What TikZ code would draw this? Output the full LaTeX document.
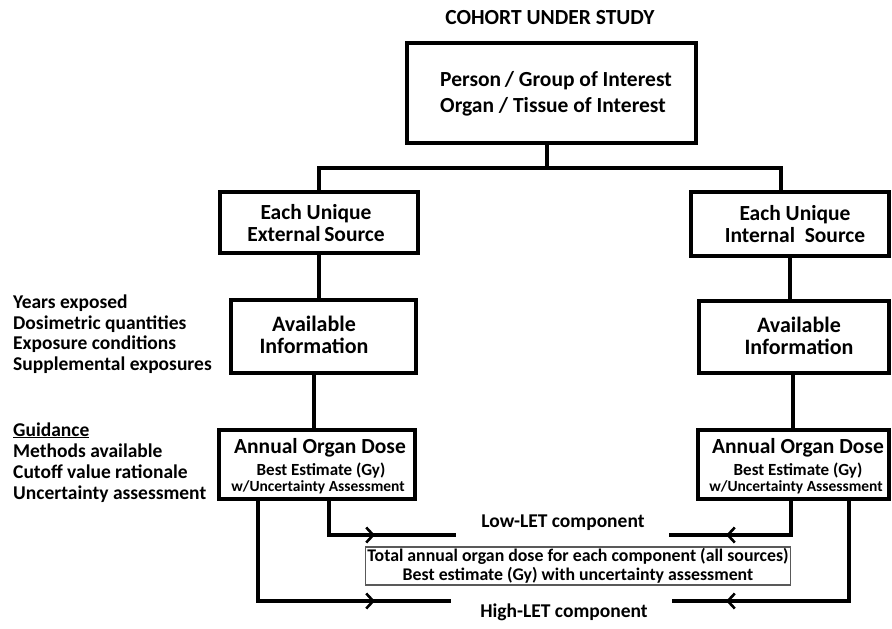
\documentclass[tikz,border=0pt]{standalone}
\usepackage{fontspec}
\setmainfont{Carlito}
\usetikzlibrary{arrows.meta}
\begin{document}
\begin{tikzpicture}[x=1pt,y=-1pt,
  box/.style={draw, line width=3.8pt, rectangle, inner sep=0pt, align=center},
  conn/.style={line width=3.8pt},
  barb/.style={-{Straight Barb[length=7pt,width=15pt,line width=2.6pt]}},
  lbl/.style={inner sep=0pt, anchor=base west, font=\bfseries\fontsize{19.5}{21}\selectfont},
  txt/.style={inner sep=0pt, align=center},
  ]
\useasboundingbox (0,0) rectangle (892,629);
% title
\node[inner sep=0pt, font=\bfseries\fontsize{21.5}{24}\selectfont] (title) at (550,18) {COHORT UNDER STUDY};
% boxes
\node[box, minimum width=289pt, minimum height=100pt] (top) at (551.5,93) {};
\node[txt, align=left, font=\bfseries\fontsize{21.5}{26}\selectfont] (topT) at (556,94)
  {Person\,/ Group of Interest\\Organ / Tissue of Interest};
\node[box, minimum width=198pt, minimum height=61pt] (srcL) at (319,222.5) {};
\node[txt, font=\bfseries\fontsize{21.5}{22}\selectfont] (srcLT) at (316,223)
  {Each Unique\\External\,Source};
\node[box, minimum width=198pt, minimum height=64pt] (srcR) at (790,224) {};
\node[txt, font=\bfseries\fontsize{21.5}{22}\selectfont] (srcRT) at (795,224)
  {Each Unique\\Internal\ \ Source};
\node[box, minimum width=185pt, minimum height=73pt] (availL) at (323.5,336.5) {};
\node[txt, font=\bfseries\fontsize{22}{22}\selectfont] (availLT) at (314,335)
  {Available\\Information};
\node[box, minimum width=190pt, minimum height=72pt] (availR) at (794,337) {};
\node[txt, font=\bfseries\fontsize{22}{22}\selectfont] (availRT) at (799,336)
  {Available\\Information};
\node[box, minimum width=196pt, minimum height=69pt] (annualL) at (317,464.5) {};
\node[txt, anchor=base, font=\bfseries\fontsize{21.5}{22}\selectfont] (aL1) at (320,453) {Annual Organ Dose};
\node[txt, anchor=base, font=\bfseries\fontsize{17}{18}\selectfont] (aL2) at (321,475) {Best Estimate (Gy)};
\node[txt, anchor=base, font=\bfseries\fontsize{15.5}{16}\selectfont] (aL3) at (318,491) {w/Uncertainty Assessment};
\node[box, minimum width=191pt, minimum height=69pt] (annualR) at (793.5,464.5) {};
\node[txt, anchor=base, font=\bfseries\fontsize{21.5}{22}\selectfont] (aR1) at (798,453) {Annual Organ Dose};
\node[txt, anchor=base, font=\bfseries\fontsize{17}{18}\selectfont] (aR2) at (798,475) {Best Estimate (Gy)};
\node[txt, anchor=base, font=\bfseries\fontsize{15.5}{16}\selectfont] (aR3) at (796,491) {w/Uncertainty Assessment};
\node[draw=black!65, line width=1.1pt, minimum width=425pt, minimum height=38pt, inner sep=0pt, align=center,
      font=\bfseries\fontsize{17.8}{19}\selectfont] (total) at (578,566)
  {Total annual organ dose for each component (all sources)\\Best estimate (Gy) with uncertainty assessment};
% side lists
\node[lbl] (i1) at (13,308) {Years exposed};
\node[lbl] (i2) at (13,329) {Dosimetric quantities};
\node[lbl] (i3) at (13,349) {Exposure conditions};
\node[lbl] (i4) at (13,370) {Supplemental exposures};
\node[lbl] (g1) at (13,436) {\underline{Guidance}};
\node[lbl] (g2) at (13,457) {Methods available};
\node[lbl] (g3) at (13,478) {Cutoff value rationale};
\node[lbl] (g4) at (13,499) {Uncertainty assessment};
% component labels
\node[inner sep=0pt, font=\bfseries\fontsize{19.5}{20}\selectfont] (low) at (563,523) {Low-LET component};
\node[inner sep=0pt, font=\bfseries\fontsize{19.5}{20}\selectfont] (high) at (564,612) {High-LET component};
% tree connectors
\coordinate (hub) at (547,168);
\draw[conn] (top.south -| hub) -- (hub);
\draw[conn] (srcL.north) |- (hub) -| (781,0 |- srcR.north);
\draw[conn] (srcL.south) -- (availL.north -| srcL.south);
\draw[conn] (srcR.south) -- (availR.north -| srcR.south);
\draw[conn] (availL.south -| 314,0) -- (annualL.north -| 314,0);
\draw[conn] (availR.south -| 793,0) -- (annualR.north -| 793,0);
% bottom connectors
\coordinate (lowLa) at (375,535);
\coordinate (lowLe) at (456,535);
\coordinate (highLa) at (375,601);
\coordinate (highLe) at (451,601);
\coordinate (lowRa) at (726,535);
\coordinate (lowRe) at (669,535);
\coordinate (highRa) at (726,601);
\coordinate (highRe) at (672,601);
\draw[conn] (annualL.south -| 329,0) |- (lowLe);
\draw[conn] (annualL.south -| 258,0) |- (highLe);
\draw[conn] (annualR.south -| 791,0) |- (lowRe);
\draw[conn] (annualR.south -| 849,0) |- (highRe);
\draw[conn, barb] (lowLa) ++(-20,0) -- (lowLa);
\draw[conn, barb] (highLa) ++(-20,0) -- (highLa);
\draw[conn, barb] (lowRa) ++(20,0) -- (lowRa);
\draw[conn, barb] (highRa) ++(20,0) -- (highRa);
\end{tikzpicture}
\end{document}
